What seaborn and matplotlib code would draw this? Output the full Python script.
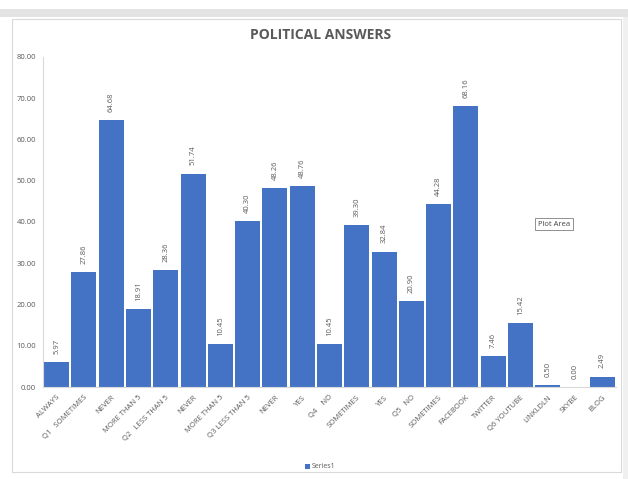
import matplotlib
matplotlib.use("Agg")
import matplotlib.pyplot as plt
import seaborn as sns
import pandas as pd
from matplotlib.patches import Rectangle

categories = ["ALWAYS", "Q1   SOMETIMES", "NEVER", "MORE THAN 5", "Q2   LESS THAN 5",
              "NEVER", "MORE THAN 5", "Q3 LESS THAN 5", "NEVER", "YES", "Q4    NO",
              "SOMETIMES", "YES", "Q5   NO", "SOMETIMES", "FACEBOOK", "TWITTER",
              "Q6 YOUTUBE", "LINKLDLN", "SKYBE", "BLOG"]
values = [5.97, 27.86, 64.68, 18.91, 28.36, 51.74, 10.45, 40.30, 48.26, 48.76, 10.45,
          39.30, 32.84, 20.90, 44.28, 68.16, 7.46, 15.42, 0.50, 0.00, 2.49]
series_name = "Series1"
title = "POLITICAL ANSWERS"

df = pd.DataFrame({"pos": list(range(len(values))), "value": values})

sns.set_style("white")
plt.rcParams["font.family"] = ["Open Sans", "DejaVu Sans"]

fig = plt.figure(figsize=(6.28, 4.79), dpi=100)
# top gray band and frame
fig.patches.append(Rectangle((0, 1 - 17/479), 1, 8/479, transform=fig.transFigure,
                             facecolor="#e3e3e3", edgecolor="none", zorder=-2))
fig.patches.append(Rectangle((12/628, 1 - 472/479), 609/628, 453/479, transform=fig.transFigure,
                             facecolor="white", edgecolor="#d9d9d9", lw=0.8, zorder=-2))
fig.patches.append(Rectangle((623/628, 0), 5/628, 1 - 17/479, transform=fig.transFigure,
                             facecolor="#f0f0f0", edgecolor="none", zorder=-2))

ax = fig.add_axes([43/628, 1 - 387/479, 573/628, 330/479])
sns.barplot(data=df, x="pos", y="value", color="#4472C4", width=0.92, saturation=1,
            edgecolor="none", ax=ax, label=series_name)
if ax.get_legend() is not None:
    ax.get_legend().remove()
ax.set_ylim(0, 80)
ax.set_xlim(-0.5, len(values) - 0.5)
ax.set_yticks(range(0, 81, 10))
ax.set_yticklabels([f"{v:.2f}" for v in range(0, 81, 10)], fontsize=5.5, color="#595959")
ax.set_xticks(range(len(values)))
ax.set_xticklabels(categories, rotation=45, ha="right", rotation_mode="anchor",
                   fontsize=5.5, color="#595959")
ax.tick_params(axis="both", length=0, pad=5)
ax.set_xlabel("")
ax.set_ylabel("")
for s in ["top", "right"]:
    ax.spines[s].set_visible(False)
ax.spines["left"].set_color("#d9d9d9")
ax.spines["bottom"].set_color("#d9d9d9")
ax.spines["left"].set_linewidth(0.8)
ax.spines["bottom"].set_linewidth(0.8)
ax.patch.set_alpha(0)

for i, v in enumerate(values):
    ax.text(i, v + 2.0, f"{v:.2f}", rotation=90, ha="center", va="bottom",
            fontsize=5.5, color="#595959")

fig.text(0.51, 1 - 35/479, title, ha="center", va="center", fontsize=10,
         fontweight="bold", color="#595959")

# Plot Area label box
fig.text(554/628, 1 - 224/479, "Plot Area", ha="center", va="center", fontsize=5.5,
         color="#404040",
         bbox=dict(boxstyle="square,pad=0.35", facecolor="white", edgecolor="#7f7f7f", lw=0.6))

handles, labels = ax.get_legend_handles_labels()
leg = fig.legend(handles[:1], [series_name], loc="center", bbox_to_anchor=(0.51, 1 - 467/479),
                 frameon=False, fontsize=5, handlelength=0.7, handleheight=0.7,
                 handletextpad=0.3)
for t in leg.get_texts():
    t.set_color("#595959")

fig.savefig("out.png", dpi=100)
